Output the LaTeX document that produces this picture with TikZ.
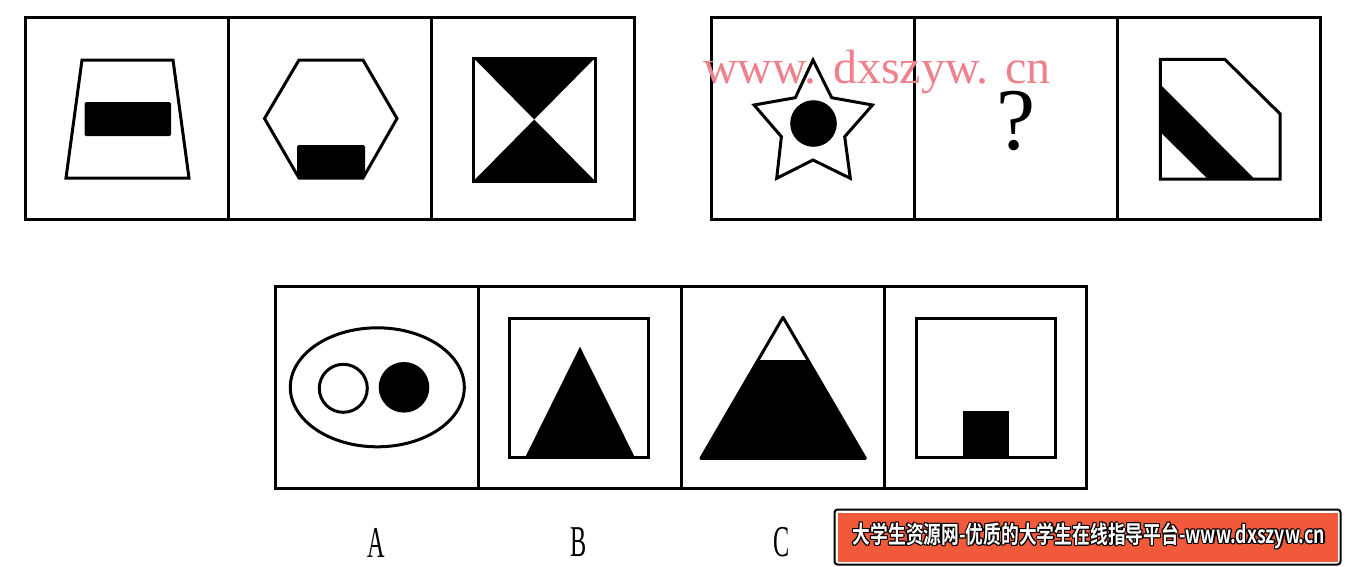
\documentclass[tikz,border=0pt]{standalone}
\usepackage{fontspec}
\setmainfont{Liberation Serif}
\newfontfamily\cjk{Noto Sans CJK SC Bold}
\definecolor{wmark}{RGB}{238,130,140}
\definecolor{banorange}{RGB}{240,90,58}
\tikzset{
  frame/.style={line width=3pt, draw=black},
  outl/.style={line width=3pt, draw=black, line join=miter},
  blk/.style={fill=black},
  lbl/.style={inner sep=0pt, font=\fontsize{44}{44}\selectfont},
  bantext/.style={inner sep=0pt, font=\cjk\fontsize{24}{24}\selectfont},
}
\newcommand{\bantxt}{\scalebox{0.74}[1]{大学生资源网-优质的大学生在线指导平台-www.dxszyw.cn}}
\begin{document}
\begin{tikzpicture}[x=1pt,y=-1pt]
\useasboundingbox (0,0) rectangle (1345,566);
\fill[white] (0,0) rectangle (1345,566);

% ---------- top-left panel ----------
\draw[frame] (25,17) rectangle (634,219);
\draw[frame] (228,17) -- (228,219);
\draw[frame] (431,17) -- (431,219);
% cell 1: trapezoid with bar
\draw[outl] (82,60) -- (173,60) -- (189,178) -- (66,178) -- cycle;
\fill[blk, rounded corners=1.5pt] (84.5,102) rectangle (171,136);
% cell 2: hexagon with block
\fill[blk, rounded corners=1.5pt] (297,145) rectangle (365,178);
\draw[outl] (299,60) -- (363,60) -- (397,118.5) -- (363,178) -- (299,178) -- (264.5,118.5) -- cycle;
% cell 3: hourglass square
\fill[blk] (473.5,58) -- (595,58) -- (534.25,119.5) -- cycle;
\fill[blk] (473.5,181) -- (595,181) -- (534.25,119.5) -- cycle;
\draw[outl] (473.5,58) rectangle (595,181);

% ---------- top-right panel ----------
\draw[frame] (711,17) rectangle (1320,219);
\draw[frame] (914,17) -- (914,219);
\draw[frame] (1117,17) -- (1117,219);
% star with dot
\draw[outl] (813,60) -- (831.7,97.7) -- (872.5,105) -- (844.7,136.7) -- (850.3,178.3)
  -- (813,160) -- (776.7,178.3) -- (781.4,136.7) -- (754.1,105) -- (795.3,97.7) -- cycle;
\fill[blk] (813.5,123.5) circle (23.3);
% question mark
\node[inner sep=0pt, font=\fontsize{88}{88}\selectfont] (q) at (1016.5,121) {?};
% cut-corner shape with diagonal band
\fill[blk] (1160,84) -- (1254.5,179) -- (1207.8,179) -- (1160,131.7) -- cycle;
\draw[outl] (1160.3,59.3) -- (1224.8,59.3) -- (1280.2,114) -- (1280.2,179) -- (1160.3,179) -- cycle;
% watermark
\node[inner sep=0pt, anchor=base west, text=wmark, font=\fontsize{48}{48}\selectfont] (wm) at (703,83) {\smash{www.\hspace{17pt}dxszyw.\hspace{17pt}cn}};

% ---------- bottom panel ----------
\draw[frame] (275,286) rectangle (1086,488);
\draw[frame] (478,286) -- (478,488);
\draw[frame] (681,286) -- (681,488);
\draw[frame] (884,286) -- (884,488);
% A: ellipse with two circles
\draw[outl] (377.3,387.3) ellipse (87 and 59.5);
\draw[outl] (343.3,388.3) circle (24);
\fill[blk] (404,387.3) circle (25.3);
% B: rectangle with triangle
\fill[blk] (580,346.7) -- (635,457.7) -- (525,457.7) -- cycle;
\draw[outl] (509.8,318.3) rectangle (648.5,457.7);
% C: triangle with white top
\fill[blk] (758.1,360) -- (807.9,360) -- (865.3,458.3) -- (700.9,458.3) -- cycle;
\draw[outl, line join=round] (783,317.3) -- (865.3,458.3) -- (700.9,458.3) -- cycle;
% D: rectangle with small block
\fill[blk] (962.7,411) rectangle (1009.3,457.7);
\draw[outl] (916.6,318.3) rectangle (1055.4,457.7);

% labels
\node[lbl] (la) at (376.5,542.5) {\scalebox{0.55}[1]{A}};
\node[lbl] (lb) at (579,542.5) {\scalebox{0.55}[1]{B}};
\node[lbl] (lc) at (782,542.5) {\scalebox{0.55}[1]{C}};

% ---------- banner ----------
\draw[line width=2pt, draw=black, fill=white, rounded corners=3pt] (834.5,509.5) rectangle (1340.5,564.5);
\fill[banorange] (837.5,512.5) rectangle (1337.5,561.5);
\foreach \dx/\dy [count=\i] in {-1.2/0,1.2/0,0/-1.2,0/1.2,-0.9/-0.9,0.9/-0.9,-0.9/0.9,0.9/0.9}{
  \node[bantext, text=black] (bs\i) at (1089+\dx,536+\dy) {\bantxt};
}
\node[bantext, text=white] (ban) at (1089,536) {\bantxt};
\end{tikzpicture}
\end{document}
